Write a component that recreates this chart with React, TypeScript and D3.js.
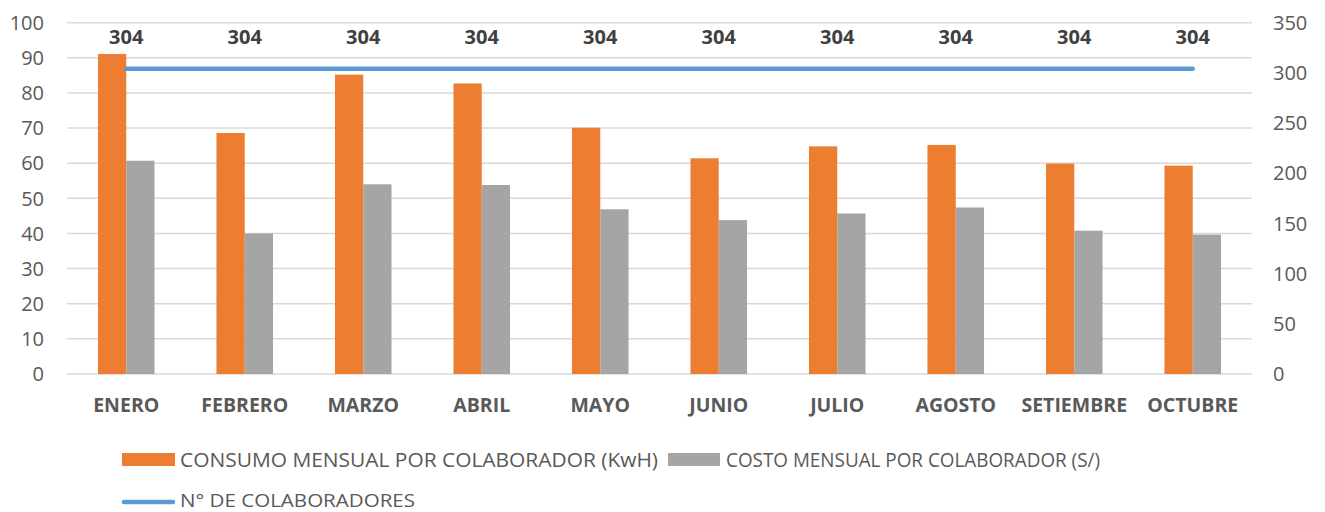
import React from "react";
import * as d3 from "d3";

const categories = ["ENERO", "FEBRERO", "MARZO", "ABRIL", "MAYO", "JUNIO", "JULIO", "AGOSTO", "SETIEMBRE", "OCTUBRE"];
const consumo = [91.1, 68.6, 85.2, 82.7, 70.1, 61.4, 64.8, 65.2, 59.9, 59.3];
const costo = [60.7, 40.0, 54.0, 53.8, 46.9, 43.8, 45.7, 47.4, 40.8, 39.7];
const colaboradores = [304, 304, 304, 304, 304, 304, 304, 304, 304, 304];
const leftTicks = [0, 10, 20, 30, 40, 50, 60, 70, 80, 90, 100];
const rightTicks = [0, 50, 100, 150, 200, 250, 300, 350];
const seriesNames = ["CONSUMO MENSUAL POR COLABORADOR (KwH)", "COSTO MENSUAL POR COLABORADOR (S/)", "N° DE COLABORADORES"];

const W = 1325, H = 512;
const plotLeft = 67, plotRight = 1252, plotTop = 22.7, plotBottom = 374;
const FONT = "'Open Sans', sans-serif";

export default function App() {
  const x = d3.scaleBand<string>().domain(categories).range([plotLeft, plotRight]).paddingInner(0).paddingOuter(0);
  const yL = d3.scaleLinear().domain([0, 100]).range([plotBottom, plotTop]);
  const yR = d3.scaleLinear().domain([0, 350]).range([plotBottom, plotTop]);
  const band = x.bandwidth();
  const gap = 2.19;
  const bw = band / (2 + gap);
  const center = (c: string) => (x(c) as number) + band / 2;
  const line = d3.line<number>().x((_, i) => center(categories[i])).y((d) => yR(d));

  return (
    <svg width={W} height={H} style={{ position: "absolute", left: 0, top: 0, background: "#fff" }} fontFamily={FONT}>
      <rect width={W} height={H} fill="#fff" />
      {leftTicks.map((t) => (
        <line key={"g" + t} x1={plotLeft} x2={plotRight} y1={yL(t)} y2={yL(t)} stroke="#D9D9D9" strokeWidth={1.5} />
      ))}
      {leftTicks.map((t) => (
        <text key={"l" + t} x={44} y={yL(t)} dy="0.36em" textAnchor="end" fontSize={20} fill="#595959">{t}</text>
      ))}
      {rightTicks.map((t) => (
        <text key={"r" + t} x={1273} y={yR(t)} dy="0.36em" textAnchor="start" fontSize={20} fill="#595959">{t}</text>
      ))}
      {categories.map((c, i) => (
        <g key={c}>
          <rect x={center(c) - bw} y={yL(consumo[i])} width={bw} height={plotBottom - yL(consumo[i])} fill="#ED7D31" />
          <rect x={center(c)} y={yL(costo[i])} width={bw} height={plotBottom - yL(costo[i])} fill="#A5A5A5" />
          <text x={center(c)} y={405} dy="0.36em" textAnchor="middle" fontSize={19.5} fontWeight="bold" fill="#595959">{c}</text>
          <text x={center(c)} y={36.5} dy="0.36em" textAnchor="middle" fontSize={20} fontWeight="bold" fill="#404040">{colaboradores[i]}</text>
        </g>
      ))}
      <path d={line(colaboradores) as string} fill="none" stroke="#5B9BD5" strokeWidth={4.5} strokeLinecap="round" />
      <rect x={122} y={453} width={53} height={13} fill="#ED7D31" />
      <text x={180} y={459.5} dy="0.36em" fontSize={20} fill="#595959" textLength={478} lengthAdjust="spacingAndGlyphs">{seriesNames[0]}</text>
      <rect x={668} y={453} width={52} height={13} fill="#A5A5A5" />
      <text x={726} y={459.5} dy="0.36em" fontSize={20} fill="#595959" textLength={374} lengthAdjust="spacingAndGlyphs">{seriesNames[1]}</text>
      <line x1={124} x2={173} y1={502} y2={502} stroke="#5B9BD5" strokeWidth={4.5} strokeLinecap="round" />
      <text x={180} y={500.5} dy="0.36em" fontSize={19} fill="#595959" textLength={235} lengthAdjust="spacingAndGlyphs">{seriesNames[2]}</text>
    </svg>
  );
}
